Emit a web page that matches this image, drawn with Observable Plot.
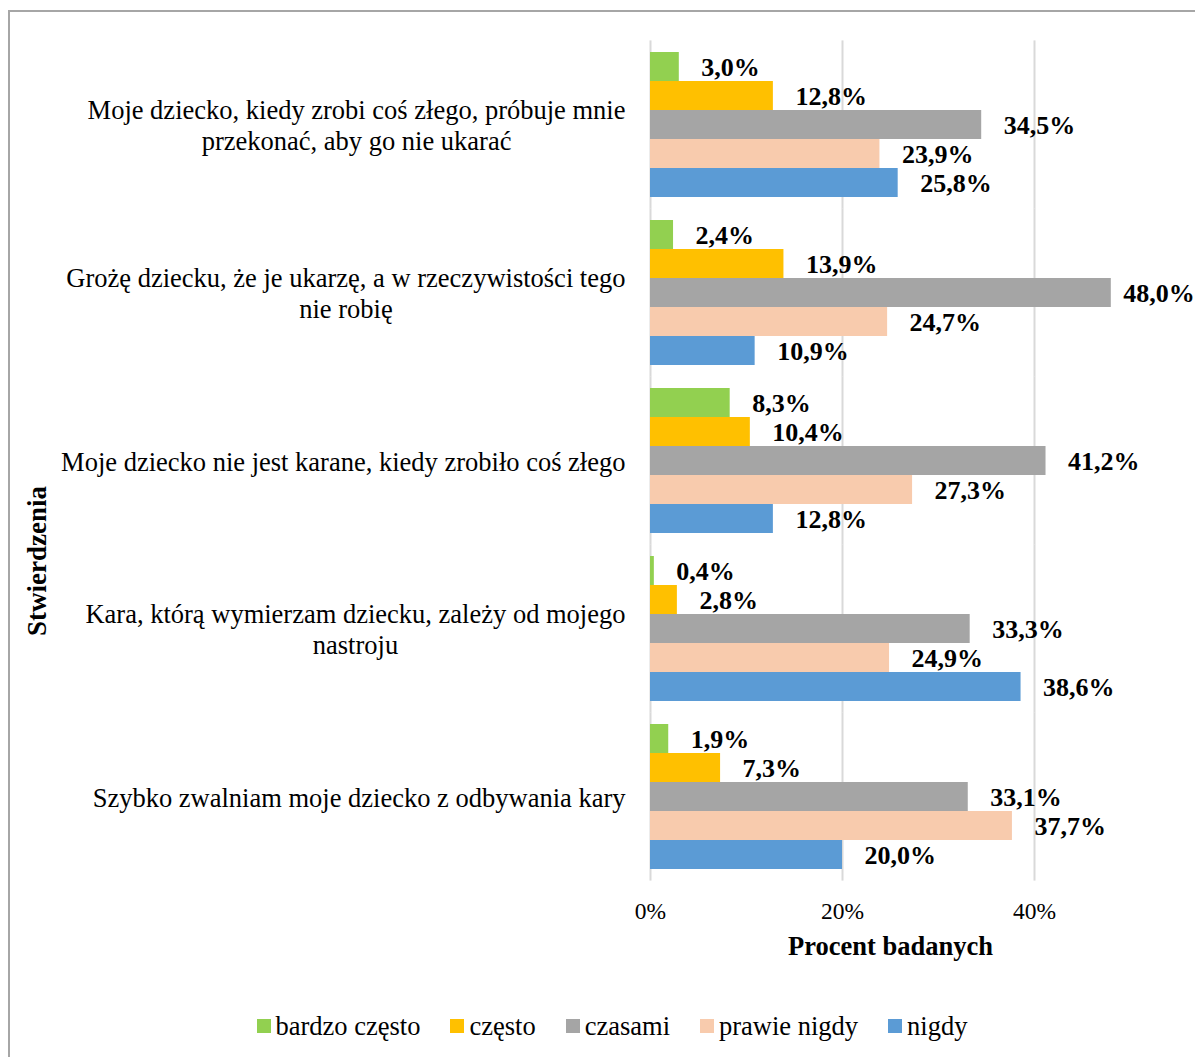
<!DOCTYPE html>
<html>
<head>
<meta charset="utf-8">
<script src="https://cdn.jsdelivr.net/npm/d3@7"></script>
<script src="https://cdn.jsdelivr.net/npm/@observablehq/plot@0.6"></script>
<style>
  html, body { margin: 0; padding: 0; background: #fff; }
  body { width: 1195px; height: 1057px; overflow: hidden; position: relative; font-family: "Liberation Serif", "Times New Roman", serif; }
  #frame { position: absolute; left: 8px; top: 10px; width: 1300px; height: 1200px; border-left: 2px solid #a6a6a6; border-top: 2px solid #a6a6a6; }
  #chart { position: absolute; left: 0; top: 0; }
  #legend { position: absolute; top: 1010px; left: 29px; width: 1166px; display: flex; justify-content: center; gap: 30px; font-size: 26.5px; line-height: 32px; color: #000; }
  #legend .item { display: flex; align-items: center; gap: 5px; }
  #legend .sw { width: 14px; height: 14px; display: inline-block; }
</style>
</head>
<body>
<div id="frame"></div>
<div id="chart"></div>
<div id="legend"></div>
<script>
const categories = [
  "Moje dziecko, kiedy zrobi coś złego, próbuje mnie\nprzekonać, aby go nie ukarać",
  "Grożę dziecku, że je ukarzę, a w rzeczywistości tego\nnie robię",
  "Moje dziecko nie jest karane, kiedy zrobiło coś złego",
  "Kara, którą wymierzam dziecku, zależy od mojego\nnastroju",
  "Szybko zwalniam moje dziecko z odbywania kary"
];
const series = ["bardzo często", "często", "czasami", "prawie nigdy", "nigdy"];
const colors = ["#92d050", "#ffc000", "#a5a5a5", "#f8cbad", "#5b9bd5"];

const bardzoCzesto = [3.0, 2.4, 8.3, 0.4, 1.9];
const czesto       = [12.8, 13.9, 10.4, 2.8, 7.3];
const czasami      = [34.5, 48.0, 41.2, 33.3, 33.1];
const prawieNigdy  = [23.9, 24.7, 27.3, 24.9, 37.7];
const nigdy        = [25.8, 10.9, 12.8, 38.6, 20.0];

const xTicks = [0, 20, 40];
const xTitle = "Procent badanych";
const yTitle = "Stwierdzenia";

const seriesValues = [bardzoCzesto, czesto, czasami, prawieNigdy, nigdy];
const rows = [];
categories.forEach((c, i) => {
  series.forEach((s, j) => rows.push({category: c, series: s, value: seriesValues[j][i]}));
});
const fmt = v => v.toFixed(1).replace(".", ",") + "%";
const nearEdge = d => d.value >= 45;

const chart = Plot.plot({
  width: 1195,
  height: 975,
  marginTop: 40,
  marginBottom: 94,
  marginLeft: 650,
  marginRight: 65,
  style: {fontFamily: "'Liberation Serif', 'Times New Roman', serif", fontSize: "26px", color: "#000", background: "transparent", overflow: "visible"},
  x: {domain: [0, 50]},
  y: {domain: series, padding: 0, axis: null},
  fy: {domain: categories, paddingInner: 0.137, paddingOuter: 0.0685, axis: null},
  color: {domain: series, range: colors},
  marks: [
    Plot.ruleX(xTicks, {stroke: "#d9d9d9", strokeWidth: 2, insetTop: -11.6, insetBottom: -11.6}),
    Plot.barX(rows, {x: "value", y: "series", fy: "category", fill: "series"}),
    Plot.text(rows.filter(d => !nearEdge(d)), {x: "value", y: "series", fy: "category", text: d => fmt(d.value), textAnchor: "start", dx: 22, dy: 1, fontWeight: "bold", fontSize: 26, fill: "#000"}),
    Plot.text(rows.filter(nearEdge), {x: "value", y: "series", fy: "category", text: d => fmt(d.value), textAnchor: "start", dx: 12, dy: 1, fontWeight: "bold", fontSize: 26, fill: "#000"}),
    Plot.axisX({ticks: xTicks, tickFormat: d => d + "%", tickSize: 0, tickPadding: 33, fontSize: 23.5, label: null}),
    Plot.axisFy({anchor: "left", tickSize: 0, tickPadding: 25, fontSize: 26.5, label: null, lineHeight: 1.17}),
    Plot.text([xTitle], {frameAnchor: "bottom", dy: 85, fontWeight: "bold", fontSize: 26.5, facet: "super"}),
    Plot.text([yTitle], {frameAnchor: "left", rotate: -90, dx: -613, dy: 175, fontWeight: "bold", fontSize: 27, facet: "super"})
  ]
});
document.getElementById("chart").appendChild(chart);

// center multi-line category labels relative to each other (Excel style), right edge at tick padding
chart.querySelectorAll('g[aria-label="fy-axis tick label"] text').forEach(t => {
  const spans = Array.from(t.querySelectorAll("tspan"));
  const w = spans.length ? Math.max(...spans.map(s => s.getComputedTextLength())) : t.getComputedTextLength();
  t.setAttribute("text-anchor", "middle");
  const tr = t.getAttribute("transform") || "";
  t.setAttribute("transform", tr + ` translate(${-w / 2},0)`);
});

const legend = document.getElementById("legend");
series.forEach((s, i) => {
  const item = document.createElement("div");
  item.className = "item";
  const sw = document.createElement("span");
  sw.className = "sw";
  sw.style.background = colors[i];
  const lab = document.createElement("span");
  lab.textContent = s;
  item.appendChild(sw);
  item.appendChild(lab);
  legend.appendChild(item);
});
</script>
</body>
</html>
